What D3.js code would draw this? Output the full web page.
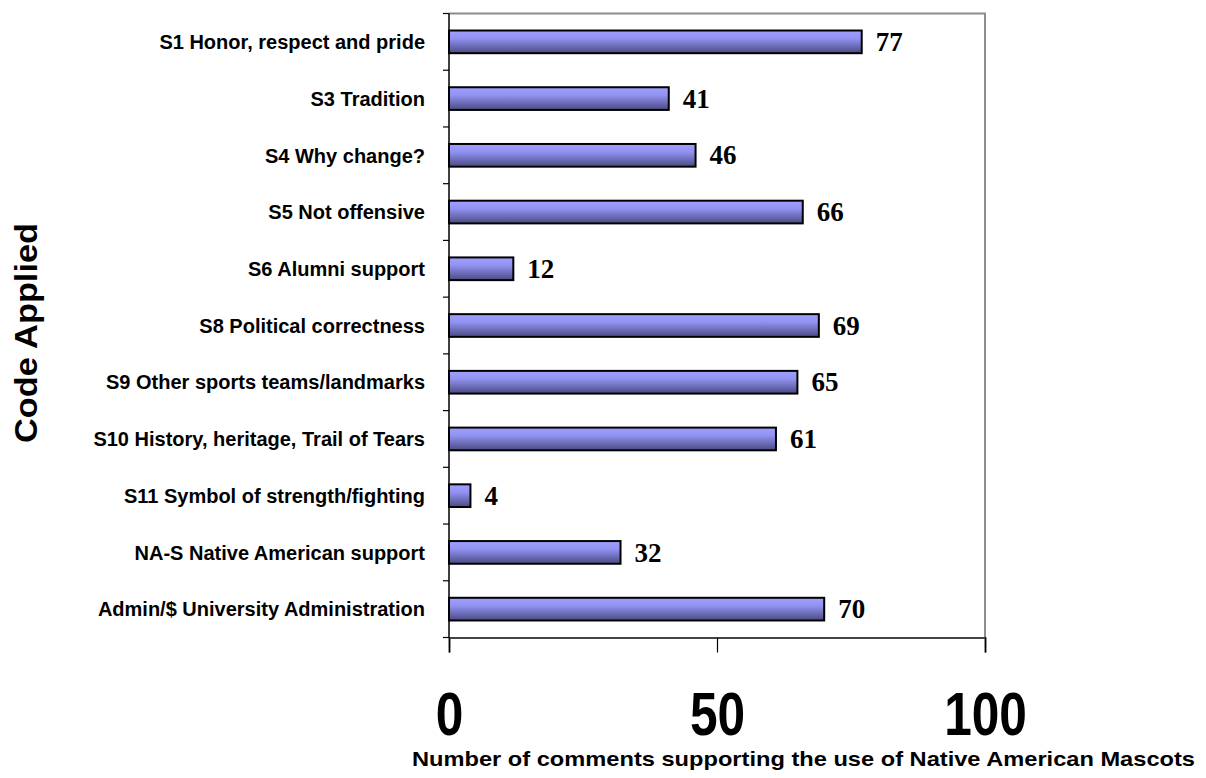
<!DOCTYPE html>
<html>
<head>
<meta charset="utf-8">
<script src="https://cdn.jsdelivr.net/npm/d3@7"></script>
<style>
    body { margin: 0; background: #fff; }
    svg { display: block; }
    .cat-label { font-family: Arial, "Liberation Sans", sans-serif; font-weight: bold; font-size: 20px; }
    .val-label { font-family: "Times New Roman", "Liberation Serif", serif; font-weight: bold; font-size: 27px; }
    .x-tick { font-family: Arial, "Liberation Sans", sans-serif; font-weight: bold; font-size: 62px; }
    .axis-title { font-family: Arial, "Liberation Sans", sans-serif; font-weight: bold; }
</style>
</head>
<body>
<div id="chart"></div>
<script>
var categories = [
    "S1 Honor, respect and pride",
    "S3 Tradition",
    "S4 Why change?",
    "S5 Not offensive",
    "S6 Alumni support",
    "S8 Political correctness",
    "S9 Other sports teams/landmarks",
    "S10 History, heritage, Trail of Tears",
    "S11 Symbol of strength/fighting",
    "NA-S Native American support",
    "Admin/$ University Administration"
];
var counts = [77, 41, 46, 66, 12, 69, 65, 61, 4, 32, 70];
var xTicks = [0, 50, 100];
var xTitle = "Number of comments supporting the use of Native American Mascots";
var yTitle = "Code Applied";

var W = 1206, H = 778;
var margin = {top: 13.5, right: 221, bottom: 140.5, left: 449};
var width = W - margin.left - margin.right;
var height = H - margin.top - margin.bottom;

var svg = d3.select("#chart").append("svg")
    .attr("width", W)
    .attr("height", H);

// bar gradient, light at top and dark at bottom
var grad = svg.append("defs").append("linearGradient")
    .attr("id", "barFill")
    .attr("x1", 0).attr("y1", 0).attr("x2", 0).attr("y2", 1);
grad.append("stop").attr("offset", "0%").attr("stop-color", "#a0a0ff");
grad.append("stop").attr("offset", "35%").attr("stop-color", "#9292f2");
grad.append("stop").attr("offset", "100%").attr("stop-color", "#4a4a82");

var g = svg.append("g")
    .attr("transform", "translate(" + margin.left + "," + margin.top + ")");

var x = d3.scaleLinear()
    .domain([0, 100])
    .range([0, width]);

var y = d3.scaleBand()
    .domain(categories)
    .range([0, height])
    .paddingInner(0.6)
    .paddingOuter(0.3);

var step = height / categories.length;

// plot area border (top and right, gray)
g.append("path")
    .attr("d", "M0,0H" + width + "V" + height)
    .attr("fill", "none")
    .attr("stroke", "#8c8c8c")
    .attr("stroke-width", 2);

// bottom axis
var xAxis = g.append("g")
    .attr("transform", "translate(0," + height + ")")
    .call(d3.axisBottom(x).tickValues(xTicks).tickSize(15).tickFormat(""));
xAxis.select(".domain").attr("stroke", "#444").attr("stroke-width", 2);
xAxis.selectAll(".tick line").attr("stroke", "#000").attr("stroke-width", 1.2);

xAxis.selectAll(".tick").append("text")
    .attr("class", "x-tick")
    .attr("fill", "#000")
    .attr("text-anchor", "middle")
    .attr("transform", "translate(0,97) scale(0.8,1)")
    .text(function(d) { return d; });

// left axis, ticks sit on category boundaries
var bounds = d3.range(categories.length + 1).map(function(i) { return i * step; });
var yAxis = g.append("g");
yAxis.append("line")
    .attr("x1", 0).attr("x2", 0)
    .attr("y1", 0).attr("y2", height)
    .attr("stroke", "#000")
    .attr("stroke-width", 1.5);
yAxis.selectAll(".ytick")
    .data(bounds)
    .enter().append("line")
    .attr("class", "ytick")
    .attr("x1", -6).attr("x2", 0)
    .attr("y1", function(d) { return d; })
    .attr("y2", function(d) { return d; })
    .attr("stroke", "#000")
    .attr("stroke-width", 1.2);

yAxis.selectAll(".cat-label")
    .data(categories)
    .enter().append("text")
    .attr("class", "cat-label")
    .attr("x", -24)
    .attr("y", function(d) { return y(d) + y.bandwidth() / 2; })
    .attr("dy", "0.36em")
    .attr("text-anchor", "end")
    .text(function(d) { return d; });

// bars
g.selectAll(".bar")
    .data(categories)
    .enter().append("rect")
    .attr("class", "bar")
    .attr("x", 0)
    .attr("y", function(d) { return y(d); })
    .attr("width", function(d, i) { return x(counts[i]); })
    .attr("height", y.bandwidth())
    .attr("fill", "url(#barFill)")
    .attr("stroke", "#000")
    .attr("stroke-width", 2);

g.selectAll(".val-label")
    .data(categories)
    .enter().append("text")
    .attr("class", "val-label")
    .attr("x", function(d, i) { return x(counts[i]) + 14; })
    .attr("y", function(d) { return y(d) + y.bandwidth() / 2; })
    .attr("dy", "0.34em")
    .text(function(d, i) { return counts[i]; });

// axis titles
svg.append("text")
    .attr("class", "axis-title")
    .attr("x", 803.5)
    .attr("y", 766)
    .attr("text-anchor", "middle")
    .style("font-size", "21px")
    .attr("textLength", 783)
    .attr("lengthAdjust", "spacingAndGlyphs")
    .text(xTitle);

svg.append("text")
    .attr("class", "axis-title")
    .attr("transform", "translate(37,333) rotate(-90)")
    .attr("text-anchor", "middle")
    .style("font-size", "31px")
    .attr("textLength", 220)
    .attr("lengthAdjust", "spacingAndGlyphs")
    .text(yTitle);
</script>
</body>
</html>
